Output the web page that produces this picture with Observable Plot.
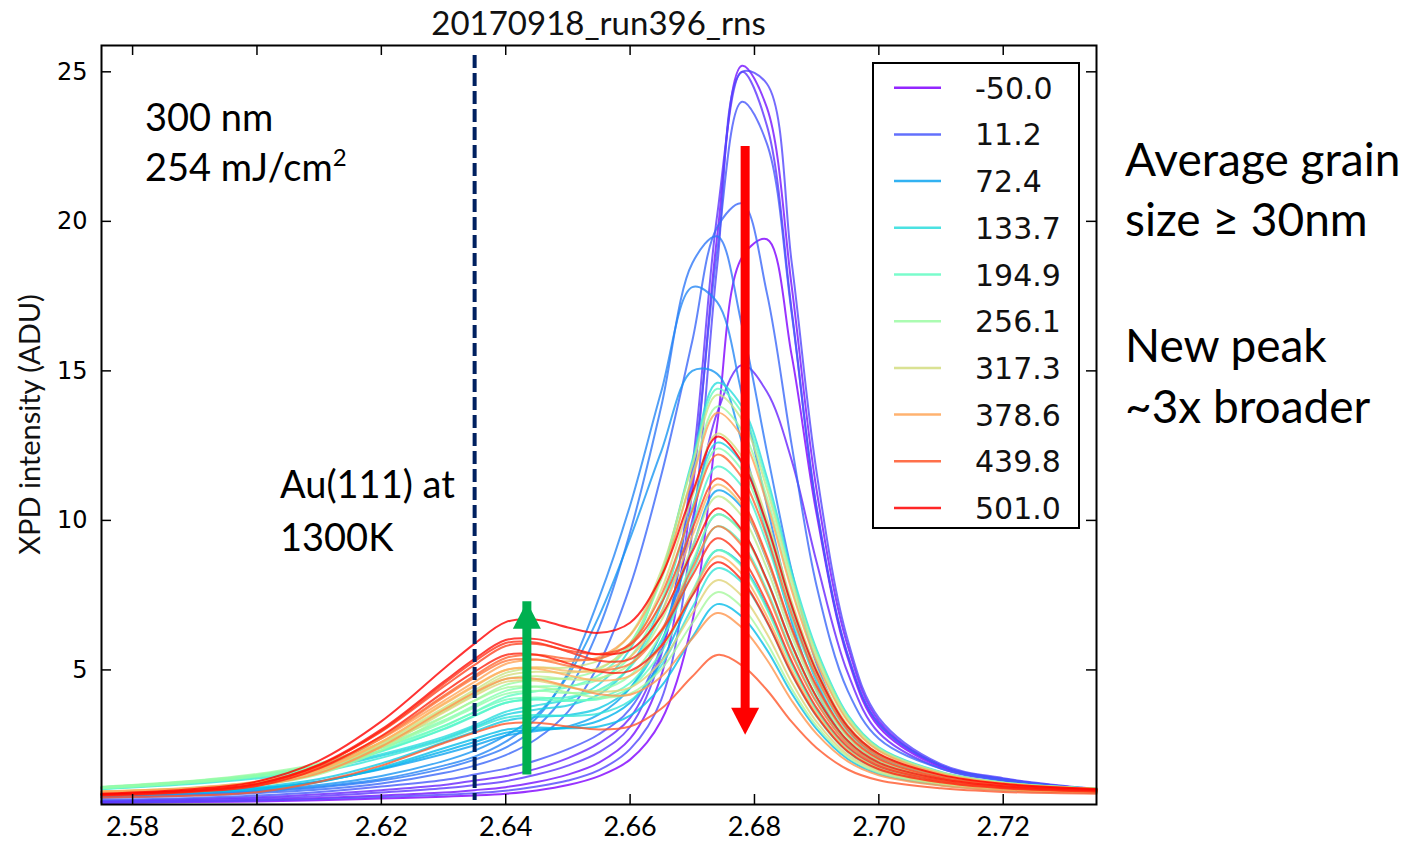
<!DOCTYPE html>
<html>
<head>
<meta charset="utf-8">
<script src="https://cdn.jsdelivr.net/npm/d3@7"></script>
<script src="https://cdn.jsdelivr.net/npm/@observablehq/plot@0.6"></script>
<style>
  body { margin: 0; background: #fff; }
  #wrap { position: relative; width: 1414px; height: 843px; overflow: hidden; background: #fff; }
  #wrap svg { position: absolute; left: 0; top: 0; }
</style>
</head>
<body>
<div id="wrap"></div>
<script>
// ---------------- data ----------------
const twoTheta = [2.575, 2.59, 2.60, 2.61, 2.62, 2.63, 2.635, 2.64, 2.645, 2.65, 2.655, 2.66,
                  2.665, 2.67, 2.674, 2.678, 2.682, 2.686, 2.69, 2.695, 2.70, 2.71, 2.72, 2.735];

const delays = [-50.0, -37.8, -25.5, -13.3, -1.0, 11.2, 23.5, 35.7, 48.0, 60.2, 72.4, 84.7, 96.9,
                109.2, 121.4, 133.7, 145.9, 170.4, 182.6, 194.9, 207.1, 231.6, 243.9, 256.1, 268.4,
                292.8, 305.1, 317.3, 329.6, 354.1, 366.3, 378.6, 390.8, 415.3, 427.5, 439.8, 452.0,
                464.3, 476.5, 488.8, 501.0];

const intensity = [
  [0.55,0.58,0.6,0.64,0.7,0.76,0.8,0.86,0.97,1.15,1.45,2.0,3.3,6.6,13.2,18.8,19.4,15.5,10.2,5.4,3.1,1.75,1.32,1.0],
  [0.58,0.62,0.66,0.72,0.8,0.9,0.98,1.08,1.25,1.5,1.9,2.7,4.8,11.0,19.5,25.2,23.8,17.8,11.0,5.8,3.3,1.8,1.35,1.0],
  [0.62,0.68,0.74,0.84,0.98,1.15,1.3,1.45,1.7,2.05,2.55,3.4,5.6,10.0,13.6,15.2,14.3,12.0,8.6,4.9,2.9,1.7,1.3,1.0],
  [0.6,0.65,0.7,0.78,0.9,1.04,1.15,1.28,1.5,1.8,2.25,3.1,5.5,11.8,20.2,25.0,23.2,17.0,10.4,5.5,3.2,1.8,1.35,1.0],
  [0.56,0.6,0.63,0.68,0.75,0.83,0.88,0.96,1.1,1.3,1.65,2.35,4.0,9.6,18.5,25.0,24.6,18.6,11.6,6.0,3.4,1.85,1.38,1.02],
  [0.65,0.72,0.8,0.92,1.1,1.32,1.5,1.7,1.98,2.35,2.85,3.7,5.8,11.4,19.0,24.0,22.6,16.9,10.4,5.5,3.2,1.8,1.35,1.0],
  [0.72,0.8,0.88,1.0,1.2,1.55,1.8,2.15,2.7,3.6,5.2,7.8,11.5,16.0,19.8,20.6,17.6,12.5,7.8,4.3,2.7,1.7,1.3,1.0],
  [0.75,0.84,0.93,1.07,1.3,1.7,2.0,2.4,3.1,4.3,6.4,9.6,13.8,18.6,19.5,16.5,12.3,8.3,5.2,3.0,2.1,1.45,1.15,0.95],
  [0.75,0.85,0.95,1.1,1.35,1.8,2.1,2.6,3.4,4.9,7.4,10.5,14.3,17.8,17.3,14.2,10.5,7.1,4.6,2.8,1.95,1.4,1.12,0.93],
  [0.78,0.88,0.98,1.15,1.45,1.95,2.3,2.8,3.5,4.8,6.8,9.4,12.3,15.0,14.9,12.6,9.5,6.6,4.3,2.6,1.85,1.35,1.1,0.92],
  [0.88,0.95,1.05,1.28,1.68,2.19,2.48,2.8,2.96,3.11,3.51,4.39,6.22,9.08,11.0,10.43,8.67,6.33,4.4,2.79,1.98,1.37,1.11,0.96],
  [0.86,0.93,1.03,1.26,1.70,2.28,2.59,2.90,3.01,3.07,3.30,3.90,5.28,7.51,9.00,8.51,7.09,5.22,3.67,2.39,1.74,1.25,1.05,0.93],
  [0.85,0.91,1.01,1.25,1.74,2.38,2.70,3.00,3.07,3.05,3.11,3.47,4.45,6.09,7.20,6.78,5.67,4.21,3.02,2.02,1.53,1.15,0.98,0.89],
  [0.88,0.96,1.08,1.35,1.87,2.58,2.94,3.30,3.43,3.49,3.72,4.40,5.97,8.51,10.20,9.63,8.01,5.86,4.09,2.62,1.88,1.33,1.09,0.95],
  [1.06,1.24,1.43,1.68,2.13,2.70,3.09,3.50,3.68,3.81,4.18,5.13,7.17,10.43,12.60,11.91,9.89,7.18,4.96,3.10,2.17,1.47,1.17,1.00],
  [1.08,1.27,1.46,1.73,2.18,2.76,3.15,3.60,3.82,4.01,4.52,5.70,8.16,12.01,14.60,13.81,11.44,8.28,5.68,3.50,2.41,1.59,1.24,1.04],
  [1.01,1.19,1.37,1.59,2.06,2.66,3.05,3.40,3.49,3.46,3.54,3.97,5.14,7.09,8.40,7.92,6.60,4.85,3.44,2.26,1.66,1.22,1.02,0.92],
  [1.06,1.25,1.44,1.73,2.30,3.01,3.46,3.90,4.04,4.09,4.33,5.09,6.90,9.84,11.80,11.14,9.23,6.72,4.66,2.94,2.08,1.42,1.14,0.98],
  [1.04,1.23,1.42,1.70,2.27,3.03,3.48,3.90,4.00,3.96,4.06,4.56,5.95,8.26,9.80,9.23,7.67,5.61,3.94,2.53,1.83,1.31,1.07,0.94],
  [1.08,1.29,1.49,1.81,2.39,3.13,3.60,4.10,4.29,4.42,4.83,5.87,8.19,11.91,14.40,13.60,11.26,8.14,5.60,3.46,2.39,1.57,1.23,1.03],
  [1.03,1.23,1.42,1.70,2.31,3.11,3.59,4.00,4.08,4.00,4.02,4.40,5.59,7.63,9.00,8.46,7.03,5.16,3.64,2.38,1.73,1.26,1.05,0.94],
  [1.06,1.28,1.48,1.82,2.47,3.31,3.81,4.30,4.45,4.46,4.68,5.43,7.30,10.36,12.40,11.68,9.67,7.02,4.86,3.05,2.14,1.46,1.17,1.00],
  [1.04,1.24,1.45,1.76,2.41,3.25,3.75,4.20,4.30,4.23,4.31,4.81,6.21,8.60,10.20,9.59,7.96,5.82,4.08,2.61,1.88,1.33,1.09,0.96],
  [1.09,1.30,1.52,1.88,2.56,3.44,3.98,4.50,4.68,4.72,5.01,5.90,8.02,11.49,13.81,13.01,10.77,7.80,5.37,3.33,2.32,1.54,1.22,1.03],
  [0.87,0.97,1.13,1.51,2.32,3.42,3.97,4.40,4.44,4.25,4.08,4.21,5.02,6.56,7.60,7.10,5.90,4.36,3.12,2.09,1.56,1.18,1.00,0.91],
  [0.90,1.02,1.20,1.60,2.47,3.61,4.19,4.70,4.79,4.69,4.72,5.19,6.64,9.13,10.80,10.14,8.40,6.12,4.27,2.73,1.95,1.37,1.11,0.97],
  [0.94,1.06,1.26,1.70,2.58,3.73,4.33,4.90,5.07,5.08,5.32,6.18,8.32,11.84,14.20,13.37,11.05,8.00,5.50,3.41,2.36,1.57,1.23,1.04],
  [0.93,1.04,1.23,1.66,2.52,3.67,4.26,4.80,4.94,4.91,5.07,5.79,7.67,10.80,12.90,12.13,10.04,7.28,5.03,3.15,2.20,1.50,1.19,1.01],
  [0.89,0.98,1.15,1.55,2.41,3.57,4.14,4.60,4.64,4.43,4.27,4.41,5.28,6.90,8.00,7.47,6.21,4.58,3.26,2.16,1.62,1.20,1.01,0.91],
  [0.92,1.04,1.23,1.66,2.59,3.84,4.45,5.00,5.09,4.97,4.97,5.43,6.92,9.48,11.20,10.51,8.70,6.33,4.41,2.81,2.00,1.39,1.12,0.98],
  [0.89,1.01,1.19,1.63,2.59,3.87,4.48,5.00,5.04,4.82,4.64,4.80,5.77,7.58,8.80,8.21,6.80,4.99,3.54,2.32,1.71,1.24,1.05,0.94],
  [0.94,1.07,1.27,1.74,2.70,3.96,4.60,5.20,5.34,5.29,5.43,6.16,8.12,11.40,13.60,12.79,10.57,7.65,5.27,3.29,2.29,1.53,1.21,1.02],
  [0.88,0.97,1.14,1.55,2.44,3.66,4.24,4.70,4.70,4.45,4.19,4.17,4.77,6.05,6.90,6.41,5.34,3.97,2.86,1.94,1.48,1.13,0.98,0.90],
  [0.81,0.94,1.13,1.70,2.71,4.08,4.74,5.30,5.35,5.14,4.98,5.20,6.33,8.40,9.80,9.15,7.57,5.53,3.90,2.52,1.83,1.31,1.08,0.96],
  [0.84,0.96,1.17,1.75,2.77,4.13,4.81,5.40,5.51,5.37,5.38,5.88,7.50,10.32,12.20,11.43,9.45,6.86,4.76,2.99,2.12,1.46,1.17,1.01],
  [0.73,0.80,0.91,1.26,1.80,2.55,2.90,3.20,3.23,3.11,3.01,3.11,3.70,4.78,5.50,5.15,4.33,3.26,2.39,1.67,1.31,1.04,0.92,0.86],
  [0.84,0.97,1.19,1.82,2.94,4.44,5.17,5.80,5.87,5.65,5.53,5.84,7.22,9.72,11.40,10.65,8.80,6.39,4.46,2.84,2.03,1.40,1.14,0.99],
  [0.82,0.95,1.17,1.80,2.96,4.53,5.29,5.90,5.91,5.61,5.31,5.36,6.30,8.15,9.40,8.74,7.23,5.29,3.73,2.43,1.78,1.29,1.07,0.96],
  [0.80,0.93,1.12,1.71,2.79,4.25,4.94,5.50,5.51,5.22,4.94,4.97,5.80,7.48,8.60,8.00,6.62,4.87,3.46,2.27,1.68,1.24,1.04,0.93],
  [0.83,0.96,1.19,1.83,3.01,4.60,5.37,6.00,6.03,5.76,5.52,5.67,6.80,8.95,10.40,9.68,8.00,5.84,4.09,2.63,1.90,1.35,1.11,0.98],
  [0.86,1.02,1.27,1.97,3.28,5.03,5.88,6.60,6.68,6.42,6.24,6.58,8.12,10.92,12.80,11.95,9.85,7.14,4.94,3.10,2.19,1.49,1.19,1.02]
];

const legendDelays = [-50.0, 11.2, 72.4, 133.7, 194.9, 256.1, 317.3, 378.6, 439.8, 501.0];
const xTicks = [2.58, 2.60, 2.62, 2.64, 2.66, 2.68, 2.70, 2.72];
const yTicks = [5, 10, 15, 20, 25];
const chartTitle = "20170918_run396_rns";
const yLabel = "XPD intensity (ADU)";
const meltLine = [2.635];
const arrowUp = [{x: 2.6434, from: 2.09, to: 7.28}];
const arrowDown = [{x: 2.6785, from: 22.5, to: 2.83}];

// ---------------- styling helpers ----------------
function mplRainbow(t) {
  const r = Math.min(1, Math.abs(2 * t - 0.5));
  const g = Math.sin(Math.PI * t);
  const b = Math.max(0, Math.cos(Math.PI * t / 2));
  return `rgb(${Math.round(r * 255)},${Math.round(g * 255)},${Math.round(b * 255)})`;
}
const dMin = d3.min(delays), dMax = d3.max(delays);
const colorOf = d => mplRainbow((d - dMin) / (dMax - dMin));

const headUp = {draw(ctx) { ctx.moveTo(0, 0); ctx.lineTo(-14, 27); ctx.lineTo(14, 27); ctx.closePath(); }};
const headDown = {draw(ctx) { ctx.moveTo(0, 0); ctx.lineTo(-14, -27); ctx.lineTo(14, -27); ctx.closePath(); }};

const rows = delays.flatMap((d, i) => twoTheta.map((x, j) => ({delay: d, x, y: intensity[i][j]})));

const W = 1414, H = 843, ML = 101, MR = 318, MT = 45, MB = 39;
const frameW = W - ML - MR, frameH = H - MT - MB;

const chart = Plot.plot({
  width: W, height: H,
  marginLeft: ML, marginRight: MR, marginTop: MT, marginBottom: MB,
  x: {domain: [2.575, 2.735]},
  y: {domain: [0.5, 25.88]},
  style: {fontFamily: "DejaVu Sans", fontSize: "24px", color: "#000", background: "transparent"},
  marks: [
    Plot.line(rows, {x: "x", y: "y", z: "delay", stroke: d => colorOf(d.delay),
      strokeWidth: 2, strokeOpacity: 0.8, curve: "catmull-rom"}),
    Plot.ruleX(meltLine, {x: d => d, stroke: "#002060", strokeWidth: 4, strokeDasharray: "13,5",
      insetTop: 10, insetBottom: 4}),
    Plot.ruleX(arrowUp, {x: "x", y1: "from", y2: "to", stroke: "#00b050", strokeWidth: 9, insetTop: 18}),
    Plot.dot(arrowUp, {x: "x", y: "to", symbol: headUp, fill: "#00b050", stroke: null}),
    Plot.ruleX(arrowDown, {x: "x", y1: "from", y2: "to", stroke: "#ff0000", strokeWidth: 9, insetBottom: 18}),
    Plot.dot(arrowDown, {x: "x", y: "to", symbol: headDown, fill: "#ff0000", stroke: null}),
    Plot.frame({stroke: "#000", strokeWidth: 2}),
    Plot.tickX(xTicks, {x: d => d, insetBottom: frameH - 10, stroke: "#000", strokeWidth: 1.5}),
    Plot.tickX(xTicks, {x: d => d, insetTop: frameH - 10, stroke: "#000", strokeWidth: 1.5}),
    Plot.tickY(yTicks, {y: d => d, insetRight: frameW - 10, stroke: "#000", strokeWidth: 1.5}),
    Plot.tickY(yTicks, {y: d => d, insetLeft: frameW - 10, stroke: "#000", strokeWidth: 1.5}),
    Plot.axisX(xTicks, {tickSize: 0, tickPadding: 12, tickFormat: d => d.toFixed(2),
      fontSize: 27, fontFamily: "Lato", label: null}),
    Plot.axisY(yTicks, {tickSize: 0, tickPadding: 14, fontSize: 24, fontFamily: "DejaVu Sans", label: null})
  ]
});

const wrap = document.getElementById("wrap");
wrap.appendChild(chart);

// ---------------- overlay: title, labels, legend, annotations ----------------
const ov = d3.select(wrap).append("svg")
  .attr("width", W).attr("height", H)
  .style("pointer-events", "none");

ov.append("text").text(chartTitle)
  .attr("x", ML + frameW / 2).attr("y", 35)
  .attr("text-anchor", "middle")
  .style("font-family", "Lato").style("font-size", "33px").attr("fill", "#111");

ov.append("text").text(yLabel)
  .attr("transform", `translate(40, ${MT + frameH / 2}) rotate(-90)`)
  .attr("text-anchor", "middle")
  .style("font-family", "Lato").style("font-size", "29px").attr("fill", "#111");

// legend
ov.append("rect").attr("x", 873).attr("y", 63).attr("width", 206).attr("height", 465)
  .attr("fill", "#fff").attr("stroke", "#000").attr("stroke-width", 2);
legendDelays.forEach((d, k) => {
  const cy = 87.7 + k * 46.7;
  ov.append("line").attr("x1", 894).attr("x2", 941).attr("y1", cy).attr("y2", cy)
    .attr("stroke", colorOf(d)).attr("stroke-width", 2.5).attr("stroke-opacity", 0.85);
  ov.append("text").text(d.toFixed(1)).attr("x", 975).attr("y", cy + 11)
    .style("font-family", "DejaVu Sans").style("font-size", "30px").attr("fill", "#111");
});

// annotations
function note(str, x, y, size) {
  return ov.append("text").text(str).attr("x", x).attr("y", y)
    .style("font-family", "Lato").style("font-size", size + "px").attr("fill", "#000");
}
note("300 nm", 145, 131, 38);
const t2 = note("254 mJ/cm", 145, 181, 38);
t2.append("tspan").text("2").attr("dy", -15).style("font-size", "24px");
note("Au(111) at", 280, 498, 38);
note("1300K", 280, 551, 38);
note("Average grain", 1125, 176, 46);
note("size \u2265 30nm", 1125, 236, 46);
note("New peak", 1125, 362, 46);
note("~3x broader", 1125, 423, 46);
</script>
</body>
</html>
